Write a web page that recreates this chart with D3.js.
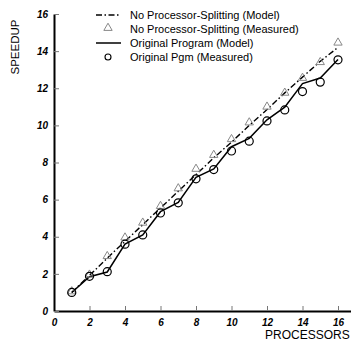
<!DOCTYPE html>
<meta charset="utf-8">
<style>
body { margin: 0; background: #fff; }
svg { font-family: "Liberation Sans", Arial, sans-serif; }
.tick text { font-weight: bold; font-style: italic; font-size: 10px; }
</style>
<svg width="351" height="342"></svg>
<script src="https://d3js.org/d3.v7.min.js"></script>
<script>

var procs = [1, 2, 3, 4, 5, 6, 7, 8, 9, 10, 11, 12, 13, 14, 15, 16];
// no processor-splitting
var noSplitModel = [1, 1.92, 2.85, 3.75, 4.65, 5.55, 6.45, 7.35, 8.25, 9.1, 10.0, 10.85, 11.75, 12.6, 13.45, 14.2];
var noSplitMeasured = [1, 1.9, 2.9, 3.9, 4.7, 5.6, 6.55, 7.6, 8.35, 9.2, 10.1, 10.95, 11.7, 12.5, 13.35, 14.4];
// original program
var origModel = [1, 1.85, 2.1, 3.6, 4.1, 5.35, 5.85, 7.2, 7.65, 8.85, 9.3, 10.3, 10.98, 12.25, 12.55, 13.55];
var origMeasured = [1, 1.87, 2.12, 3.6, 4.1, 5.28, 5.83, 7.12, 7.62, 8.62, 9.15, 10.24, 10.83, 11.82, 12.33, 13.53];

var legendLabels = ["No Processor-Splitting (Model)", "No Processor-Splitting (Measured)",
                    "Original Program (Model)", "Original Pgm (Measured)"];
var xTicks = [0, 2, 4, 6, 8, 10, 12, 14, 16];
var yTicks = [0, 2, 4, 6, 8, 10, 12, 14, 16];

var svg = d3.select("svg");

var x = d3.scaleLinear().domain([0, 17]).range([54, 355.75]);
var y = d3.scaleLinear().domain([0, 16]).range([311, 14]);

// axes
var xAxis = svg.append("g")
    .attr("transform", "translate(0," + y(0) + ")")
    .call(d3.axisBottom(x).tickValues(xTicks).tickSizeInner(-5).tickSizeOuter(0).tickPadding(5));
var yAxis = svg.append("g")
    .attr("transform", "translate(" + x(0) + ",0)")
    .call(d3.axisLeft(y).tickValues(yTicks).tickSizeInner(-5).tickSizeOuter(0).tickPadding(6));

[xAxis, yAxis].forEach(function(a) {
  a.select(".domain").attr("stroke", "#000").attr("stroke-width", 2);
  a.selectAll(".tick line").attr("stroke", "#777").attr("stroke-width", 1);
  a.selectAll(".tick text").attr("fill", "#000");
});
xAxis.selectAll(".tick text").attr("dy", "0.95em");

// axis titles
svg.append("text")
    .attr("transform", "translate(19,47) rotate(-90)")
    .attr("text-anchor", "middle")
    .attr("font-size", 11.5)
    .text("SPEEDUP");
svg.append("text")
    .attr("x", 265)
    .attr("y", 339)
    .attr("font-size", 12)
    .text("PROCESSORS");

var line = d3.line()
    .x(function(d) { return x(d[0]); })
    .y(function(d) { return y(d[1]); });

var dashDot = "6,2.5,1.5,2.5";

svg.append("path")
    .datum(d3.zip(procs, noSplitModel))
    .attr("d", line)
    .attr("fill", "none")
    .attr("stroke", "#000")
    .attr("stroke-width", 1.4)
    .attr("stroke-dasharray", dashDot);

svg.append("path")
    .datum(d3.zip(procs, origModel))
    .attr("d", line)
    .attr("fill", "none")
    .attr("stroke", "#000")
    .attr("stroke-width", 1.5);

var tri = d3.symbol().type(d3.symbolTriangle).size(30);

svg.append("g").selectAll("path")
    .data(d3.zip(procs, noSplitMeasured))
    .enter().append("path")
    .attr("d", tri)
    .attr("transform", function(d) { return "translate(" + x(d[0]) + "," + (y(d[1]) - 1) + ")"; })
    .attr("fill", "none")
    .attr("stroke", "#888")
    .attr("stroke-width", 1);

svg.append("g").selectAll("circle")
    .data(d3.zip(procs, origMeasured))
    .enter().append("circle")
    .attr("cx", function(d) { return x(d[0]); })
    .attr("cy", function(d) { return y(d[1]); })
    .attr("r", 4)
    .attr("fill", "none")
    .attr("stroke", "#000")
    .attr("stroke-width", 1.2);

// legend
var legend = svg.append("g").attr("font-size", 11);
var rowY = [15, 29, 43, 57];
legendLabels.forEach(function(lab, i) {
  var g = legend.append("g").attr("transform", "translate(0," + rowY[i] + ")");
  if (i === 0) {
    g.append("line").attr("x1", 96).attr("x2", 121)
        .attr("stroke", "#000").attr("stroke-width", 1.4).attr("stroke-dasharray", dashDot);
  } else if (i === 1) {
    g.append("path").attr("d", tri).attr("transform", "translate(108,-1)")
        .attr("fill", "none").attr("stroke", "#888");
  } else if (i === 2) {
    g.append("line").attr("x1", 96).attr("x2", 121)
        .attr("stroke", "#000").attr("stroke-width", 1.5);
  } else {
    g.append("circle").attr("cx", 108).attr("cy", 0).attr("r", 3)
        .attr("fill", "none").attr("stroke", "#000").attr("stroke-width", 1.1);
  }
  g.append("text").attr("x", 130).attr("dy", "0.35em").text(lab);
});

</script>
